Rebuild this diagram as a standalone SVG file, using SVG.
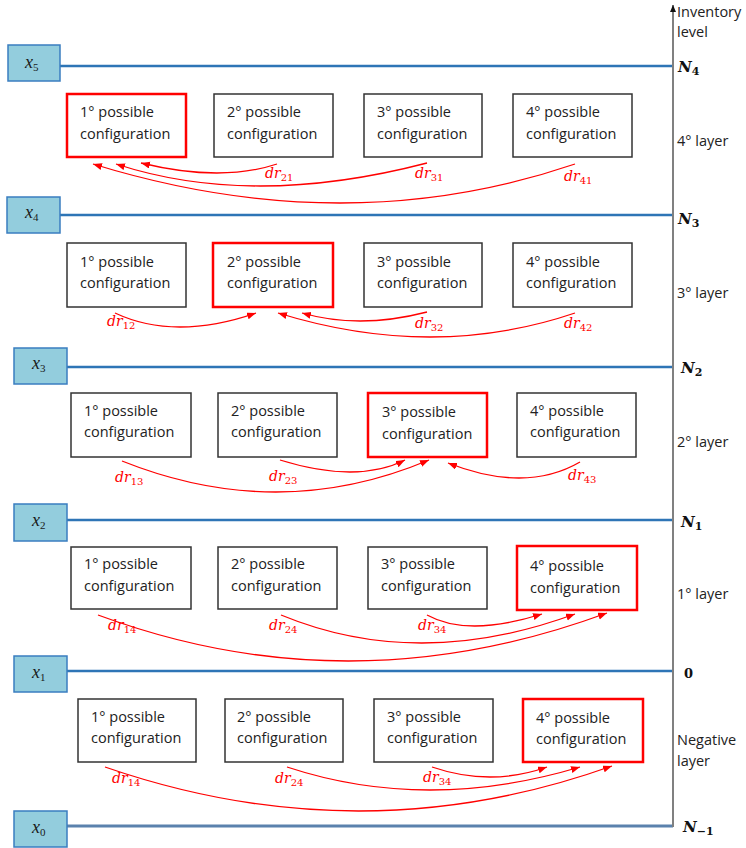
<svg xmlns="http://www.w3.org/2000/svg" width="746" height="848" viewBox="0 0 746 848">
<style>
.box{fill:#fff;stroke:#333;stroke-width:1.5}
.sel{fill:#fff;stroke:#ff0000;stroke-width:2.5}
.xb{fill:#93cddd;stroke:#3a7dc0;stroke-width:1.5}
.lvl{stroke:#2e75b6;stroke-width:2.5;fill:none}
.t{font-family:"Open Sans","Liberation Sans",sans-serif;font-size:14.5px;fill:#222}
.xl{font-family:"Liberation Serif","DejaVu Serif",serif;font-style:italic;font-size:18px;fill:#1a1a1a}
.nl{font-family:"DejaVu Serif","Liberation Serif",serif;font-style:italic;font-weight:bold;font-size:15px;fill:#111}
.zero{font-family:"DejaVu Serif","Liberation Serif",serif;font-weight:bold;font-size:13px;fill:#111}
.sub{font-style:normal;font-size:11px}
.dr{font-family:"DejaVu Serif","Liberation Serif",serif;font-style:italic;font-size:14px;fill:#ff0000}
.ds{font-style:normal;font-size:10px}
.arr{fill:none;stroke:#ff0000;stroke-width:1.3;marker-end:url(#ah)}
</style>
<defs>
<marker id="ah" markerUnits="userSpaceOnUse" markerWidth="10" markerHeight="8" refX="9" refY="3.5" orient="auto"><path d="M0,0 L9,3.5 L0,7 z" fill="#ff0000"/></marker>
<marker id="axh" markerUnits="userSpaceOnUse" markerWidth="8" markerHeight="8" refX="7" refY="3" orient="auto"><path d="M0,0 L7,3 L0,6 z" fill="#111"/></marker>
</defs>

<g id="levels">
<line class="lvl" x1="60" y1="66" x2="673" y2="66"/>
<line class="lvl" x1="60" y1="215" x2="673" y2="215"/>
<line class="lvl" x1="67" y1="367" x2="673" y2="367"/>
<line class="lvl" x1="67" y1="520" x2="673" y2="520"/>
<line class="lvl" x1="67" y1="671" x2="673" y2="671"/>
<line x1="67" y1="826" x2="673" y2="826" stroke="#5b82ad" stroke-width="3"/>
</g>

<g id="axis">
<line x1="673" y1="827" x2="673" y2="5" stroke="#808080" stroke-width="2" marker-end="url(#axh)"/>
<text class="t" x="677" y="17">Inventory</text>
<text class="t" x="677" y="37">level</text>
<text class="nl" x="678" y="72">N<tspan class="sub" dy="3">4</tspan></text>
<text class="t" x="677" y="146">4° layer</text>
<text class="nl" x="678" y="224">N<tspan class="sub" dy="3">3</tspan></text>
<text class="t" x="677" y="298">3° layer</text>
<text class="nl" x="681" y="373">N<tspan class="sub" dy="3">2</tspan></text>
<text class="t" x="677" y="447">2° layer</text>
<text class="nl" x="681" y="527">N<tspan class="sub" dy="3">1</tspan></text>
<text class="t" x="677" y="599">1° layer</text>
<text class="zero" x="684" y="678">0</text>
<text class="t" x="677" y="745">Negative</text>
<text class="t" x="677" y="766">layer</text>
<text class="nl" x="683" y="832">N<tspan class="sub" dy="3">−1</tspan></text>
</g>

<g id="x5"><rect class="xb" x="8" y="45" width="52" height="36"/><text class="xl" x="25" y="68">x<tspan class="sub" dy="3">5</tspan></text></g>
<g id="x4"><rect class="xb" x="7" y="197" width="53" height="36"/><text class="xl" x="25" y="218">x<tspan class="sub" dy="3">4</tspan></text></g>
<g id="x3"><rect class="xb" x="14" y="348" width="53" height="36"/><text class="xl" x="32" y="369">x<tspan class="sub" dy="3">3</tspan></text></g>
<g id="x2"><rect class="xb" x="14" y="504" width="53" height="37"/><text class="xl" x="32" y="526">x<tspan class="sub" dy="3">2</tspan></text></g>
<g id="x1"><rect class="xb" x="14" y="656" width="53" height="36"/><text class="xl" x="32" y="678">x<tspan class="sub" dy="3">1</tspan></text></g>
<g id="x0"><rect class="xb" x="14" y="811" width="53" height="36"/><text class="xl" x="32" y="833">x<tspan class="sub" dy="3">0</tspan></text></g>

<!-- layer 4 -->
<g id="L4c1"><rect class="sel" x="67" y="94" width="119" height="63"/><text class="t" x="80" y="117">1° possible</text><text class="t" x="80" y="139">configuration</text></g>
<g id="L4c2"><rect class="box" x="214" y="94" width="119" height="63"/><text class="t" x="227" y="117">2° possible</text><text class="t" x="227" y="139">configuration</text></g>
<g id="L4c3"><rect class="box" x="364" y="94" width="118" height="63"/><text class="t" x="377" y="117">3° possible</text><text class="t" x="377" y="139">configuration</text></g>
<g id="L4c4"><rect class="box" x="513" y="94" width="119" height="63"/><text class="t" x="526" y="117">4° possible</text><text class="t" x="526" y="139">configuration</text></g>

<!-- layer 3 -->
<g id="L3c1"><rect class="box" x="67" y="243" width="119" height="64"/><text class="t" x="80" y="267">1° possible</text><text class="t" x="80" y="288">configuration</text></g>
<g id="L3c2"><rect class="sel" x="213" y="243" width="120" height="64"/><text class="t" x="227" y="267">2° possible</text><text class="t" x="227" y="288">configuration</text></g>
<g id="L3c3"><rect class="box" x="364" y="243" width="118" height="64"/><text class="t" x="377" y="267">3° possible</text><text class="t" x="377" y="288">configuration</text></g>
<g id="L3c4"><rect class="box" x="513" y="243" width="119" height="64"/><text class="t" x="526" y="267">4° possible</text><text class="t" x="526" y="288">configuration</text></g>

<!-- layer 2 -->
<g id="L2c1"><rect class="box" x="71" y="393" width="120" height="64"/><text class="t" x="84" y="416">1° possible</text><text class="t" x="84" y="437">configuration</text></g>
<g id="L2c2"><rect class="box" x="218" y="393" width="119" height="64"/><text class="t" x="231" y="416">2° possible</text><text class="t" x="231" y="437">configuration</text></g>
<g id="L2c3"><rect class="sel" x="368" y="393" width="119" height="64"/><text class="t" x="382" y="417">3° possible</text><text class="t" x="382" y="439">configuration</text></g>
<g id="L2c4"><rect class="box" x="517" y="393" width="119" height="64"/><text class="t" x="530" y="416">4° possible</text><text class="t" x="530" y="437">configuration</text></g>

<!-- layer 1 -->
<g id="L1c1"><rect class="box" x="71" y="547" width="120" height="62"/><text class="t" x="84" y="569">1° possible</text><text class="t" x="84" y="591">configuration</text></g>
<g id="L1c2"><rect class="box" x="218" y="547" width="119" height="62"/><text class="t" x="231" y="569">2° possible</text><text class="t" x="231" y="591">configuration</text></g>
<g id="L1c3"><rect class="box" x="368" y="547" width="119" height="62"/><text class="t" x="381" y="569">3° possible</text><text class="t" x="381" y="591">configuration</text></g>
<g id="L1c4"><rect class="sel" x="517" y="546" width="120" height="64"/><text class="t" x="530" y="571">4° possible</text><text class="t" x="530" y="593">configuration</text></g>

<!-- negative layer -->
<g id="L0c1"><rect class="box" x="78" y="699" width="118" height="63"/><text class="t" x="91" y="722">1° possible</text><text class="t" x="91" y="743">configuration</text></g>
<g id="L0c2"><rect class="box" x="225" y="699" width="118" height="63"/><text class="t" x="237" y="722">2° possible</text><text class="t" x="237" y="743">configuration</text></g>
<g id="L0c3"><rect class="box" x="374" y="699" width="119" height="63"/><text class="t" x="387" y="722">3° possible</text><text class="t" x="387" y="743">configuration</text></g>
<g id="L0c4"><rect class="sel" x="523" y="699" width="120" height="63"/><text class="t" x="536" y="723">4° possible</text><text class="t" x="536" y="744">configuration</text></g>

<g id="connectors">
<path class="arr" d="M277,164 Q221,182.5 141,163"/>
<path class="arr" d="M427,163 Q252.5,208.5 116,164"/>
<path class="arr" d="M575,164 Q346,242 93,164"/>
<path class="arr" d="M115,313 Q174.5,341 256,313"/>
<path class="arr" d="M427,312 Q359.5,329.5 302,313"/>
<path class="arr" d="M575,313 Q433.5,361 278,313"/>
<path class="arr" d="M122,461 Q278.5,523.5 429,460"/>
<path class="arr" d="M280,460 Q357.5,484 405,460"/>
<path class="arr" d="M580,462 Q526,493.5 448,463"/>
<path class="arr" d="M98,615 Q349.5,708 607,613"/>
<path class="arr" d="M281,615 Q418,671.5 575,614"/>
<path class="arr" d="M427,615 Q467.5,637.5 542,614"/>
<path class="arr" d="M105,767 Q361.5,855.5 612,766"/>
<path class="arr" d="M287,767 Q426.5,813 580,767"/>
<path class="arr" d="M432,767 Q490.5,787 547,767"/>
</g>

<g id="labels">
<text class="dr" x="265" y="178">dr<tspan class="ds" dy="3">21</tspan></text>
<text class="dr" x="415" y="178">dr<tspan class="ds" dy="3">31</tspan></text>
<text class="dr" x="564" y="181">dr<tspan class="ds" dy="3">41</tspan></text>
<text class="dr" x="107" y="326">dr<tspan class="ds" dy="3">12</tspan></text>
<text class="dr" x="415" y="328">dr<tspan class="ds" dy="3">32</tspan></text>
<text class="dr" x="564" y="328">dr<tspan class="ds" dy="3">42</tspan></text>
<text class="dr" x="115" y="482">dr<tspan class="ds" dy="3">13</tspan></text>
<text class="dr" x="269" y="481">dr<tspan class="ds" dy="3">23</tspan></text>
<text class="dr" x="568" y="480">dr<tspan class="ds" dy="3">43</tspan></text>
<text class="dr" x="108" y="630">dr<tspan class="ds" dy="3">14</tspan></text>
<text class="dr" x="269" y="630">dr<tspan class="ds" dy="3">24</tspan></text>
<text class="dr" x="418" y="630">dr<tspan class="ds" dy="3">34</tspan></text>
<text class="dr" x="112" y="783">dr<tspan class="ds" dy="3">14</tspan></text>
<text class="dr" x="275" y="783">dr<tspan class="ds" dy="3">24</tspan></text>
<text class="dr" x="423" y="782">dr<tspan class="ds" dy="3">34</tspan></text>
</g>
</svg>
